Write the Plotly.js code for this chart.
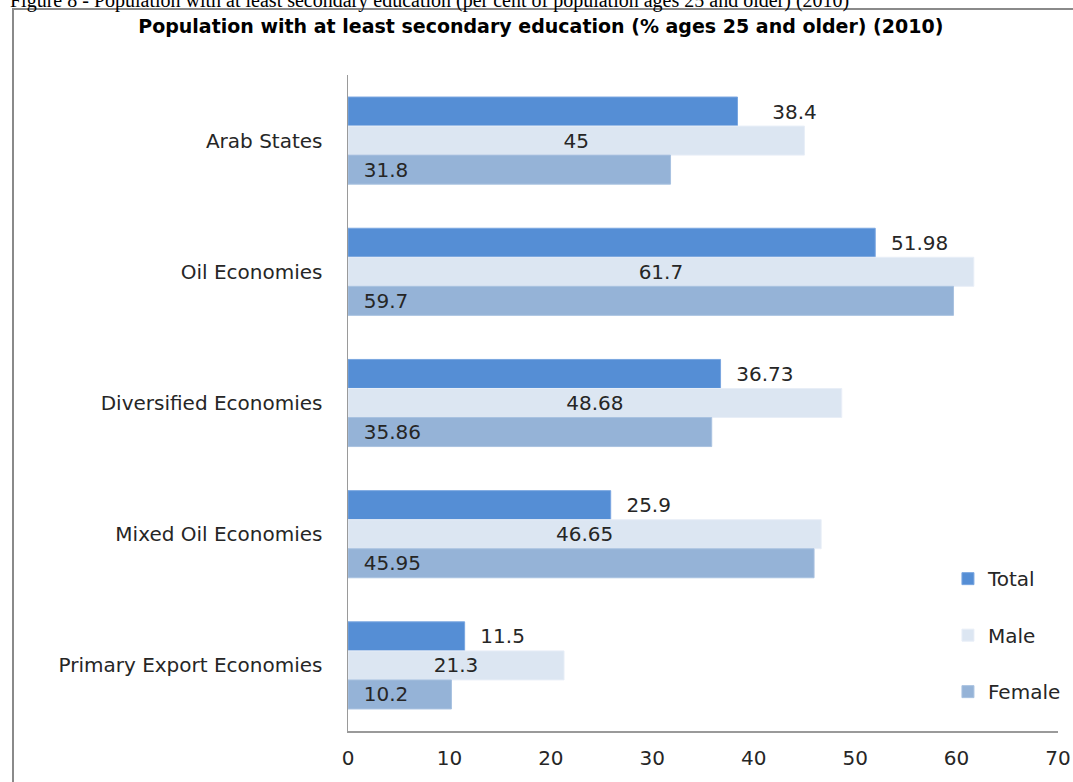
<!DOCTYPE html>
<html>
<head>
<meta charset="utf-8">
<script src="https://cdn.plot.ly/plotly-3.0.1.min.js"></script>
<style>
  html, body { margin: 0; padding: 0; background: #fff; overflow: hidden; }
  #wrap { position: relative; width: 1073px; height: 782px; overflow: hidden; }
  #chart { position: absolute; left: 0; top: 0; width: 1073px; height: 782px; }
  #frame { position: absolute; left: 12px; top: 8px; width: 1080px; height: 800px;
           border-left: 2px solid #8a8a8a; border-top: 2px solid #8a8a8a; pointer-events: none; }
  #caption { position: absolute; left: 10px; top: -10px; white-space: nowrap;
             font-family: "Liberation Serif", serif; font-size: 20px; line-height: 20px; color: #000; }
</style>
</head>
<body>
<div id="wrap">
  <div id="chart"></div>
  <div id="frame"></div>
  <div id="caption">Figure 8 - Population with at least secondary education (per cent of population ages 25 and older) (2010)</div>
</div>
<script>
const categories = ["Arab States", "Oil Economies", "Diversified Economies", "Mixed Oil Economies", "Primary Export Economies"];
const totalValues = [38.4, 51.98, 36.73, 25.9, 11.5];
const maleValues = [45, 61.7, 48.68, 46.65, 21.3];
const femaleValues = [31.8, 59.7, 35.86, 45.95, 10.2];
const xTicks = [0, 10, 20, 30, 40, 50, 60, 70];

const NB = "\u00a0";
const FONT = "DejaVu Sans, sans-serif";
const labelFont = { family: FONT, size: 20, color: "#262626" };

const traces = [
  {
    type: "bar", orientation: "h", name: "Total", legendgroup: "t",
    y: categories, x: totalValues,
    text: totalValues.map((v, i) => (i === 0 ? NB.repeat(5) : NB.repeat(2)) + String(v)),
    textposition: "outside", textangle: 0, textfont: labelFont, cliponaxis: false, constraintext: "none",
    hoverinfo: "x",
    marker: { color: "#558ED5", line: { color: "#7aa6e0", width: 1 } }
  },
  {
    type: "bar", orientation: "h", name: "Male", legendgroup: "m",
    y: categories, x: maleValues,
    text: maleValues.map(v => String(v)),
    textposition: "inside", insidetextanchor: "middle", textangle: 0, textfont: labelFont, constraintext: "none",
    hoverinfo: "x",
    marker: { color: "#DCE6F2", line: { color: "#e8eef7", width: 1 } }
  },
  {
    type: "bar", orientation: "h", name: "Female", legendgroup: "f",
    y: categories, x: femaleValues,
    text: femaleValues.map(v => NB.repeat(2) + String(v)),
    textposition: "inside", insidetextanchor: "start", textangle: 0, textfont: labelFont, constraintext: "none",
    hoverinfo: "x",
    marker: { color: "#95B3D7", line: { color: "#a9c2e0", width: 1 } }
  }
];

const layout = {
  width: 1073, height: 782,
  paper_bgcolor: "#ffffff", plot_bgcolor: "#ffffff",
  margin: { l: 348, r: 15, t: 75, b: 51, pad: 0, autoexpand: false },
  title: {
    text: "<b>Population with at least secondary education (% ages 25 and older) (2010)</b>",
    font: { family: FONT, size: 19, color: "#000" },
    x: 0.504, xanchor: "center", y: 0.966, yanchor: "middle"
  },
  barmode: "group", bargap: 0.336, bargroupgap: 0,
  showlegend: true,
  legend: {
    x: 0.845, xanchor: "left", y: 0.262, yanchor: "top",
    traceorder: "grouped", tracegroupgap: 27.5,
    font: { family: FONT, size: 20, color: "#262626" },
    bgcolor: "rgba(0,0,0,0)"
  },
  xaxis: {
    range: [0, 70], tickvals: xTicks, ticktext: xTicks.map(String),
    showgrid: false, zeroline: false,
    showline: true, linecolor: "#9a9a9a", linewidth: 1.5,
    ticks: "outside", ticklen: 8, tickcolor: "rgba(0,0,0,0)",
    tickfont: { family: FONT, size: 20, color: "#262626" },
    fixedrange: true
  },
  yaxis: {
    type: "category", autorange: "reversed",
    showgrid: false, zeroline: false,
    showline: true, linecolor: "#9a9a9a", linewidth: 1.5,
    ticks: "outside", ticklen: 20, tickcolor: "rgba(0,0,0,0)",
    tickfont: { family: FONT, size: 20, color: "#262626" },
    fixedrange: true
  }
};

Plotly.newPlot("chart", traces, layout, { displayModeBar: false, staticPlot: true });
</script>
</body>
</html>
